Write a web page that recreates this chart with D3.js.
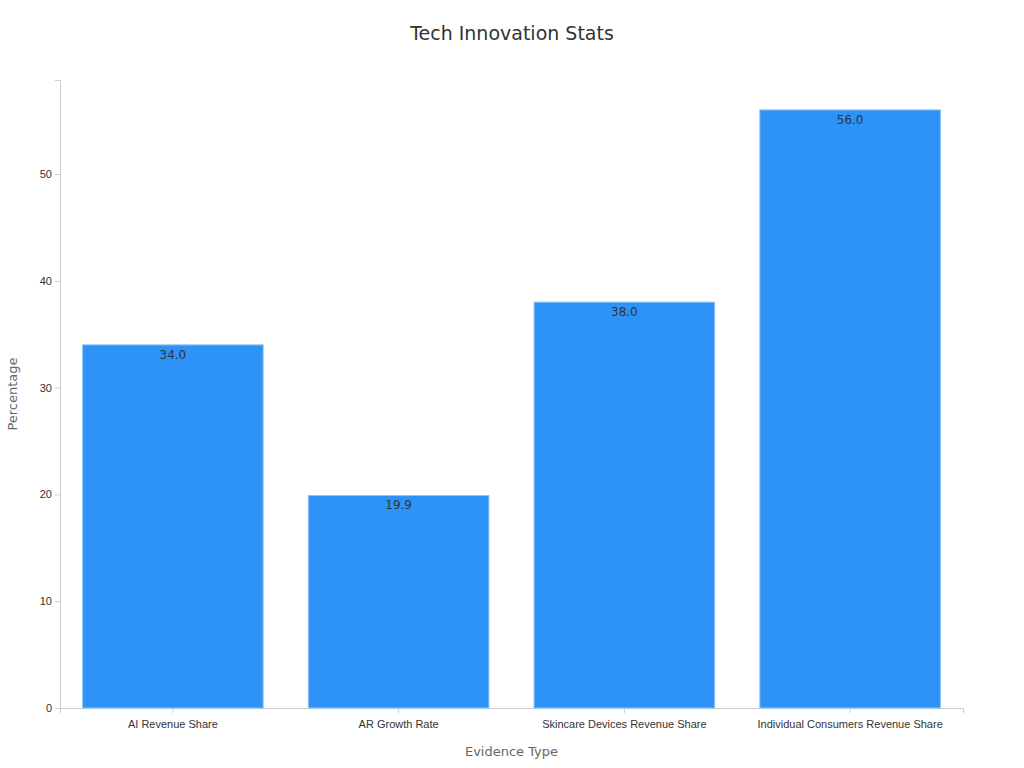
<!DOCTYPE html>
<html>
<head>
<meta charset="utf-8">
<script src="https://cdn.jsdelivr.net/npm/d3@7"></script>
<style>
  body { margin: 0; background: #fff; font-family: "DejaVu Sans", sans-serif; }
</style>
</head>
<body>
<div id="chart"></div>
<script>
// data
const categories = ["AI Revenue Share", "AR Growth Rate", "Skincare Devices Revenue Share", "Individual Consumers Revenue Share"];
const values = [34.0, 19.9, 38.0, 56.0];
const yTicks = [0, 10, 20, 30, 40, 50];

const W = 1024, H = 768;
const marginL = 60, marginR = 61, marginT = 80, marginB = 60;
const width = W - marginL - marginR;
const height = H - marginT - marginB;

var svg = d3.select("#chart").append("svg")
  .attr("width", W).attr("height", H);

var g = svg.append("g")
  .attr("transform", "translate(" + marginL + "," + marginT + ")");

var x = d3.scaleBand()
  .domain(categories)
  .range([0, width])
  .paddingInner(0.2)
  .paddingOuter(0.1);

var y = d3.scaleLinear()
  .domain([0, 58.8])
  .range([height, 0]);

// axes
var xAxis = g.append("g")
  .attr("transform", "translate(0," + height + ")")
  .call(d3.axisBottom(x).tickSizeOuter(0).tickSize(5));
xAxis.selectAll("text").attr("font-size", 11).attr("fill", "#333").attr("dy", "1.1em");

var yAxis = g.append("g")
  .call(d3.axisLeft(y).tickValues(yTicks).tickSizeOuter(0).tickSize(5));
yAxis.selectAll("text").attr("font-size", 11).attr("fill", "#333");

g.selectAll(".domain, .tick line").attr("stroke", "#ccc");

// bars
g.selectAll(".bar")
  .data(values)
  .enter()
  .append("rect")
    .attr("x", (d, i) => x(categories[i]))
    .attr("y", d => y(d))
    .attr("width", x.bandwidth())
    .attr("height", d => height - y(d))
    .attr("fill", "#2e93f7")
    .attr("stroke", "#8cc4f9")
    .attr("stroke-width", 1);

g.selectAll(".lbl")
  .data(values)
  .enter()
  .append("text")
    .attr("x", (d, i) => x(categories[i]) + x.bandwidth() / 2)
    .attr("y", d => y(d) + 14)
    .attr("text-anchor", "middle")
    .attr("font-size", 12)
    .attr("fill", "#333")
    .text(d => d.toFixed(1));

// titles
svg.append("text")
  .attr("x", W / 2).attr("y", 40)
  .attr("text-anchor", "middle")
  .attr("font-size", 19).attr("fill", "#333")
  .text("Tech Innovation Stats");

svg.append("text")
  .attr("x", marginL + width / 2).attr("y", 756)
  .attr("text-anchor", "middle")
  .attr("font-size", 13).attr("fill", "#666")
  .text("Evidence Type");

svg.append("text")
  .attr("transform", "translate(17," + (marginT + height / 2) + ")rotate(-90)")
  .attr("text-anchor", "middle")
  .attr("font-size", 13).attr("fill", "#666")
  .text("Percentage");
</script>
</body>
</html>
